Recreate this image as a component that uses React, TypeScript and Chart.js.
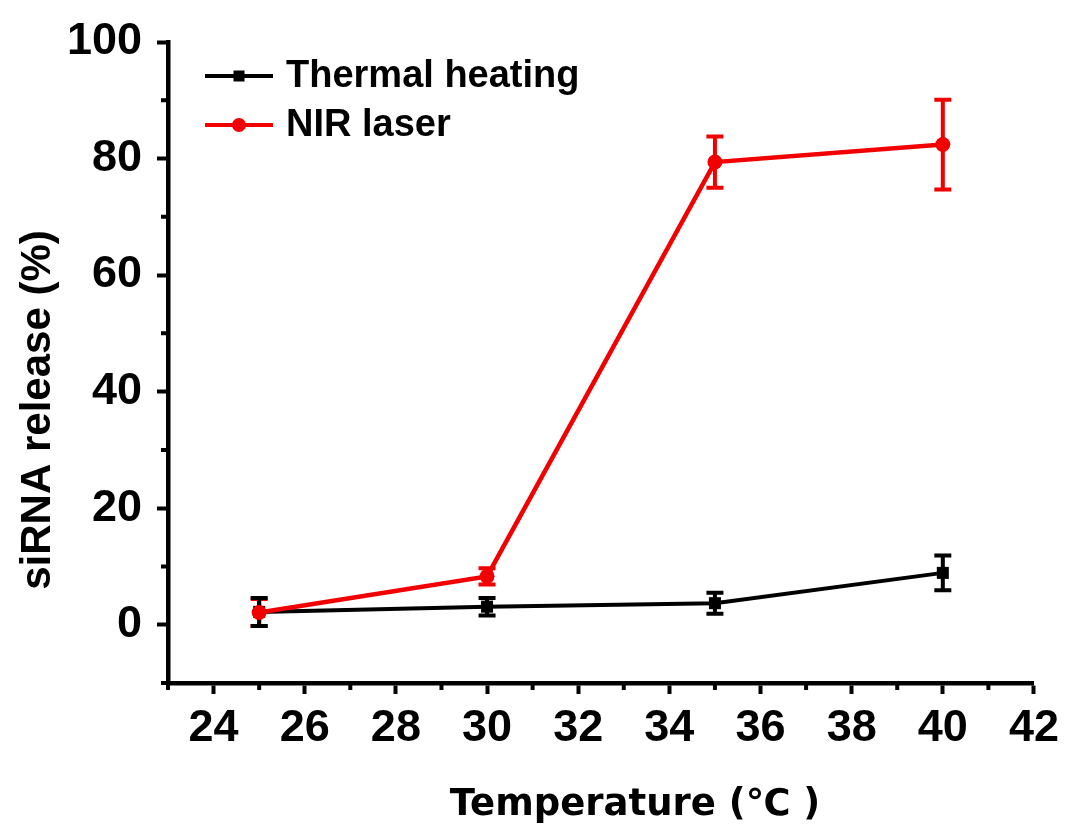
import React, { useEffect, useRef } from "react";
import { Chart, registerables } from "chart.js";

Chart.register(...registerables);

const temps = [25, 30, 35, 40];
const thermalHeating = [2.2, 3.1, 3.7, 8.9];
const thermalErr = [2.4, 1.5, 1.8, 3.0];
const nirLaser = [2.1, 8.3, 79.4, 82.4];
const nirErr = [2.3, 1.4, 4.4, 7.7];

const xMajorTicks = [24, 26, 28, 30, 32, 34, 36, 38, 40, 42];
const xMinorTicks = [23, 25, 27, 29, 31, 33, 35, 37, 39, 41];
const yMajorTicks = [0, 20, 40, 60, 80, 100];
const yMinorTicks = [-10, 10, 30, 50, 70, 90];

const xTitle = "Temperature (\u2103 )";
const yTitle = "siRNA release (%)";
const legendLabels = ["Thermal heating", "NIR laser"];

const RED = "#f20000";
const BLACK = "#000000";

const errorBarPlugin = {
  id: "errorBars",
  beforeDatasetsDraw(chart: any) {
    const ctx = chart.ctx;
    const xs = chart.scales.x;
    const ys = chart.scales.y;
    const sets = [
      { vals: nirLaser, errs: nirErr, color: RED },
      { vals: thermalHeating, errs: thermalErr, color: BLACK },
    ];
    ctx.save();
    sets.forEach((s) => {
      ctx.strokeStyle = s.color;
      ctx.lineWidth = 4;
      s.vals.forEach((v, i) => {
        const px = xs.getPixelForValue(temps[i]);
        const top = ys.getPixelForValue(v + s.errs[i]);
        const bot = ys.getPixelForValue(v - s.errs[i]);
        ctx.beginPath();
        ctx.moveTo(px, top);
        ctx.lineTo(px, bot);
        ctx.moveTo(px - 8.5, top);
        ctx.lineTo(px + 8.5, top);
        ctx.moveTo(px - 8.5, bot);
        ctx.lineTo(px + 8.5, bot);
        ctx.stroke();
      });
    });
    ctx.restore();
  },
};

const decorPlugin = {
  id: "decor",
  afterDraw(chart: any) {
    const ctx = chart.ctx;
    const xs = chart.scales.x;
    const ys = chart.scales.y;
    const area = chart.chartArea;
    ctx.save();
    // minor ticks
    ctx.strokeStyle = BLACK;
    ctx.lineWidth = 4;
    ctx.beginPath();
    xMinorTicks.forEach((v) => {
      const px = xs.getPixelForValue(v);
      ctx.moveTo(px, area.bottom);
      ctx.lineTo(px, area.bottom + 7);
    });
    yMinorTicks.forEach((v) => {
      const py = ys.getPixelForValue(v);
      ctx.moveTo(area.left, py);
      ctx.lineTo(area.left - 7, py);
    });
    ctx.stroke();

    // legend
    const items = [
      { color: BLACK, style: "rect" },
      { color: RED, style: "circle" },
    ];
    items.forEach((it, i) => {
      const y = area.top + 34 + i * 49;
      const x0 = area.left + 37;
      ctx.strokeStyle = it.color;
      ctx.lineWidth = 4;
      ctx.beginPath();
      ctx.moveTo(x0, y);
      ctx.lineTo(x0 + 68, y);
      ctx.stroke();
      ctx.fillStyle = it.color;
      if (it.style === "rect") {
        ctx.fillRect(x0 + 34 - 5.5, y - 5.5, 11, 11);
      } else {
        ctx.beginPath();
        ctx.arc(x0 + 34, y, 7, 0, Math.PI * 2);
        ctx.fill();
      }
      ctx.fillStyle = BLACK;
      ctx.font = "bold 38px 'Liberation Sans', Arial, sans-serif";
      ctx.textAlign = "left";
      ctx.textBaseline = "middle";
      ctx.fillText(legendLabels[i], x0 + 81, y + 1);
    });

    // axis titles
    ctx.fillStyle = BLACK;
    ctx.font = "bold 37px 'DejaVu Sans', 'Noto Sans CJK SC', sans-serif";
    ctx.textAlign = "center";
    ctx.textBaseline = "alphabetic";
    ctx.fillText(xTitle, 635, 815);

    ctx.save();
    ctx.translate(50, 410);
    ctx.rotate(-Math.PI / 2);
    ctx.font = "bold 42px 'Liberation Sans', Arial, sans-serif";
    ctx.textAlign = "center";
    ctx.textBaseline = "alphabetic";
    ctx.fillText(yTitle, 0, 0);
    ctx.restore();
    ctx.restore();
  },
};

export default function App() {
  const canvasRef = useRef<HTMLCanvasElement | null>(null);

  useEffect(() => {
    document.body.style.margin = "0";
    const canvas = canvasRef.current;
    if (!canvas) return;
    const tickFont = { family: "'Liberation Sans', Arial, sans-serif", size: 45, weight: "bold" as const };
    const chart = new Chart(canvas, {
      type: "line",
      data: {
        datasets: [
          {
            label: legendLabels[1],
            data: temps.map((t, i) => ({ x: t, y: nirLaser[i] })),
            borderColor: RED,
            backgroundColor: RED,
            borderWidth: 4.5,
            pointStyle: "circle",
            pointRadius: 7.5,
            pointBorderWidth: 0,
            tension: 0,
          },
          {
            label: legendLabels[0],
            data: temps.map((t, i) => ({ x: t, y: thermalHeating[i] })),
            borderColor: BLACK,
            backgroundColor: BLACK,
            borderWidth: 4,
            pointStyle: "rect",
            pointRadius: 8.5,
            pointBorderWidth: 0,
            tension: 0,
          },
        ],
      },
      options: {
        responsive: false,
        animation: false,
        events: [],
        layout: { padding: { top: 38, right: 29, left: 0, bottom: 0 } },
        plugins: {
          legend: { display: false },
          tooltip: { enabled: false },
        },
        scales: {
          x: {
            type: "linear",
            min: 23,
            max: 42,
            afterBuildTicks: (scale: any) => {
              scale.ticks = xMajorTicks.map((v) => ({ value: v }));
            },
            afterFit: (scale: any) => {
              scale.height = 149;
            },
            border: { display: true, width: 4.5, color: BLACK },
            grid: {
              display: true,
              drawOnChartArea: false,
              drawTicks: true,
              tickLength: 11,
              tickWidth: 4,
              tickColor: BLACK,
              color: BLACK,
            },
            ticks: {
              color: BLACK,
              font: tickFont,
              padding: 8,
              maxRotation: 0,
              autoSkip: false,
            },
          },
          y: {
            type: "linear",
            min: -10,
            max: 100,
            afterBuildTicks: (scale: any) => {
              scale.ticks = yMajorTicks.map((v) => ({ value: v }));
            },
            afterFit: (scale: any) => {
              scale.width = 168;
            },
            border: { display: true, width: 4.5, color: BLACK },
            grid: {
              display: true,
              drawOnChartArea: false,
              drawTicks: true,
              tickLength: 11,
              tickWidth: 4,
              tickColor: BLACK,
              color: BLACK,
            },
            ticks: {
              color: BLACK,
              font: tickFont,
              padding: 15,
              autoSkip: false,
            },
          },
        },
      },
      plugins: [errorBarPlugin, decorPlugin],
    });
    return () => chart.destroy();
  }, []);

  return (
    <div style={{ width: 1067, height: 832, background: "#fff" }}>
      <canvas ref={canvasRef} width={1067} height={832} />
    </div>
  );
}
